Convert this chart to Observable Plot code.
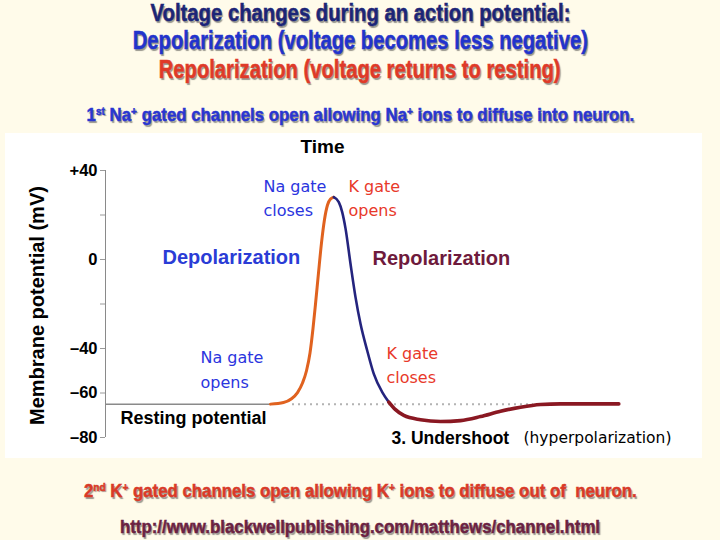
<!DOCTYPE html>
<html>
<head>
<meta charset="utf-8">
<script src="https://cdn.jsdelivr.net/npm/d3@7"></script>
<script src="https://cdn.jsdelivr.net/npm/@observablehq/plot@0.6"></script>
<style>
  html, body { margin: 0; padding: 0; }
  body { width: 720px; height: 540px; background: #fffbea; position: relative; overflow: hidden;
         font-family: "Liberation Sans", Arial, sans-serif; }
  .t { position: absolute; left: 0; width: 720px; text-align: center; font-weight: bold; white-space: nowrap; line-height: 1; }
  .t span { display: inline-block; transform-origin: center; -webkit-text-stroke: 0.5px currentColor;
            text-shadow: 1.5px 1.5px 1px rgba(30,30,30,0.45); }
  .t sup { font-size: 60%; vertical-align: 0.55em; line-height: 0; }
  #chart { position: absolute; left: 5px; top: 133px; }
</style>
</head>
<body>
<div class="t" style="top:1px;font-size:24px;color:#1c2577"><span data-w="420">Voltage changes during an action potential:</span></div>
<div class="t" style="top:28px;font-size:25px;color:#2233cc"><span data-w="455">Depolarization (voltage becomes less negative)</span></div>
<div class="t" style="top:57px;font-size:25px;color:#df3a28"><span data-w="402">Repolarization (voltage returns to resting)</span></div>
<div class="t" style="top:105px;font-size:19px;color:#2a36d0"><span data-w="548">1<sup>st</sup> Na<sup>+</sup> gated channels open allowing Na<sup>+</sup> ions to diffuse into neuron.</span></div>
<div id="chart"></div>
<div class="t" style="top:481px;font-size:19px;color:#d93a28"><span data-w="553">2<sup>nd</sup> K<sup>+</sup> gated channels open allowing K<sup>+</sup> ions to diffuse out of&nbsp; neuron.</span></div>
<div class="t" style="top:517px;font-size:19px;color:#6b2242"><span data-w="480">http://www.blackwellpublishing.com/matthews/channel.html</span></div>
<script>
// ---- data ----
const yTicks = [40, 20, 0, -20, -40, -60, -80];
const yTickLabels = ["+40", "", "0", "", "–40", "–60", "–80"];
const restingPotential = -65;

const riseTime    = [1.65, 1.78, 1.86, 1.92, 1.97, 2.01, 2.045, 2.075, 2.10, 2.13, 2.16, 2.19, 2.22, 2.25, 2.283];
const riseVoltage = [-65, -64.3, -62.6, -59.8, -55.5, -50, -42, -31, -20, -6, 7.5, 18, 24.5, 27.2, 28.0];

const fallTime    = [2.283, 2.333, 2.367, 2.40, 2.45, 2.50, 2.55, 2.617, 2.683, 2.767, 2.833];
const fallVoltage = [28.0, 25.8, 21.3, 14.0, -1.9, -16.9, -28.9, -40.9, -51.4, -59.6, -64.1];

const undershootTime    = [2.833, 2.90, 2.983, 3.15, 3.35, 3.55, 3.75, 3.95, 4.15, 4.35, 4.55, 5.133];
const undershootVoltage = [-64.1, -67.5, -70.1, -72.0, -72.8, -72.4, -70.6, -68.2, -66.4, -65.2, -64.9, -64.9];

const restingSolidRange  = [0, 1.65];
const restingDottedRange = [1.87, 4.28];

const xTitle = "Time";
const yTitle = "Membrane potential (mV)";

// ---- build tables ----
const toRows = (ts, vs) => ts.map((t, i) => ({t, v: vs[i]}));
const rise = toRows(riseTime, riseVoltage);
const fall = toRows(fallTime, fallVoltage);
const undershoot = toRows(undershootTime, undershootVoltage);
const tickLabel = new Map(yTicks.map((d, i) => [d, yTickLabels[i]]));

const blueLabels = [
  {text: "Na gate\ncloses", t: 1.58, v: 28.5},
  {text: "Na gate\nopens", t: 0.95, v: -48.5}
];
const redLabels = [
  {text: "K gate\nopens", t: 2.43, v: 28.5},
  {text: "K gate\ncloses", t: 2.81, v: -46.5}
];

const hand = "'DejaVu Sans', sans-serif";
const sans = "'Liberation Sans', Arial, sans-serif";

const plot = Plot.plot({
  width: 697,
  height: 325,
  marginLeft: 100,
  marginRight: 0,
  marginTop: 37,
  marginBottom: 21,
  x: {domain: [0, 5.97], axis: null},
  y: {domain: [-80, 40], axis: null},
  style: {background: "white", fontFamily: sans, overflow: "visible"},
  marks: [
    Plot.axisY({ticks: yTicks, tickFormat: d => tickLabel.get(d), tickSize: 5, tickPadding: 3, label: null,
                fontSize: 16.5, fontWeight: "bold", stroke: "#9a9a9a", fill: "black"}),
    Plot.ruleX([0], {y1: -80, y2: 40, stroke: "#8a8a8a", strokeWidth: 1}),
    Plot.ruleY([restingPotential], {x1: restingSolidRange[0], x2: restingSolidRange[1], stroke: "#8a8a8a", strokeWidth: 1.5}),
    Plot.ruleY([restingPotential], {x1: restingDottedRange[0], x2: restingDottedRange[1], stroke: "#b3b3b3", strokeWidth: 2, strokeDasharray: "2,4"}),
    Plot.line(rise, {x: "t", y: "v", stroke: "#e0621f", strokeWidth: 3, curve: "monotone-x"}),
    Plot.line(fall, {x: "t", y: "v", stroke: "#24247e", strokeWidth: 2.6, curve: "monotone-x"}),
    Plot.line(undershoot, {x: "t", y: "v", stroke: "#8a1822", strokeWidth: 3.6, curve: "monotone-x"}),
    Plot.text([xTitle], {x: 2.17, y: 50.8, text: d => d, fontSize: 19, fontWeight: "bold", fill: "black"}),
    Plot.text([yTitle], {x: -0.68, y: -20.7, rotate: -90, text: d => d, fontSize: 20, fontWeight: "bold", fill: "black"}),
    Plot.text(blueLabels, {x: "t", y: "v", text: "text", textAnchor: "start", lineHeight: 1.55, fontSize: 16, fontFamily: hand, fill: "#2b35de"}),
    Plot.text(redLabels, {x: "t", y: "v", text: "text", textAnchor: "start", lineHeight: 1.5, fontSize: 16, fontFamily: hand, fill: "#e8392a"}),
    Plot.text(["Depolarization"], {x: 0.57, y: 0.9, text: d => d, textAnchor: "start", fontSize: 20, fontWeight: "bold", fill: "#2a3cd6"}),
    Plot.text(["Repolarization"], {x: 2.67, y: 0.45, text: d => d, textAnchor: "start", fontSize: 20, fontWeight: "bold", fill: "#6e1a3c"}),
    Plot.text(["Resting potential"], {x: 0.15, y: -71.5, text: d => d, textAnchor: "start", fontSize: 18, fontWeight: "bold", fill: "black"}),
    Plot.text(["3. Undershoot"], {x: 2.86, y: -80.4, text: d => d, textAnchor: "start", fontSize: 17.5, fontWeight: "bold", fill: "black"}),
    Plot.text(["(hyperpolarization)"], {x: 4.18, y: -80.4, text: d => d, textAnchor: "start", fontSize: 15.5, fontFamily: hand, fill: "black"})
  ]
});
document.getElementById("chart").appendChild(plot);

// fit title lines to their widths
document.querySelectorAll(".t span").forEach(s => {
  const w = s.getBoundingClientRect().width;
  s.style.transform = `scaleX(${(+s.dataset.w / w).toFixed(3)})`;
});
</script>
</body>
</html>
